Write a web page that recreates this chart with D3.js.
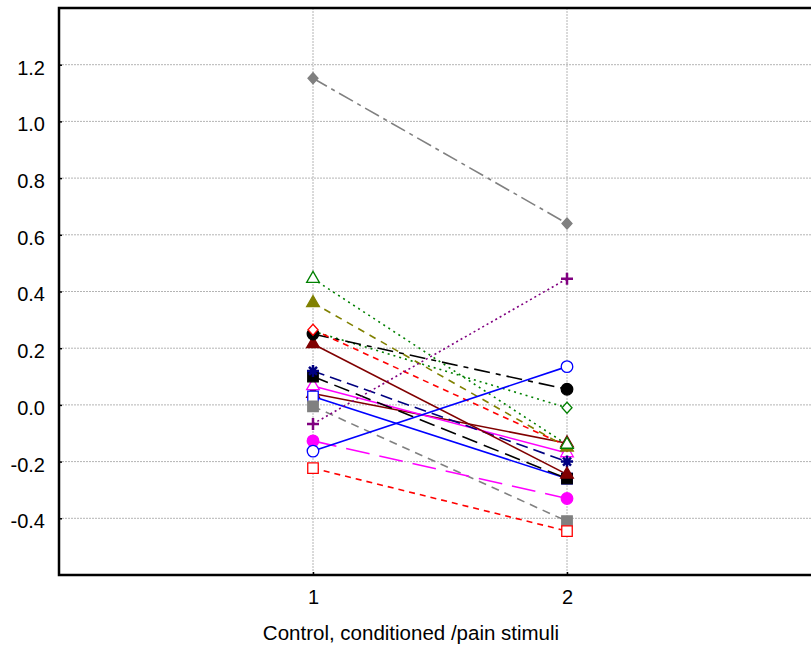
<!DOCTYPE html>
<html>
<head>
<meta charset="utf-8">
<script src="https://cdn.jsdelivr.net/npm/d3@7"></script>
<style>
body{margin:0;background:#fff;}
svg{display:block;font-family:"Liberation Sans",Arial,sans-serif;}
</style>
</head>
<body>
<div class="canvas"></div>
<script>
// conditions on the x axis
var categories = [1, 2];
var yTicks = [-0.4, -0.2, 0.0, 0.2, 0.4, 0.6, 0.8, 1.0, 1.2];
var xTitle = 'Control, conditioned /pain stimuli';

// one entry per subject, drawn back to front
var subjects = ['s17','s6','s10','s11','s12','s9','s8','s7','s5','s4','s3','s2','s13','s14','s15','s16','s1'];
var control     = [0.04, 0.26, 0.067, 0.03, -0.005, 0.10, 0.12, 0.215, 0.25, 0.265, 0.36, 0.445, -0.067, -0.127, -0.163, -0.223, 1.152];
var conditioned = [-0.135, -0.01, -0.17, -0.26, -0.41, -0.26, -0.2, -0.245, 0.055, -0.145, -0.15, -0.14, 0.445, -0.33, 0.135, -0.445, 0.64];

// look of each subject (same order as subjects)
var looks = [
  {c:'#800000', d:null,          m:'tri',     open:false},
  {c:'#008000', d:'2,4',         m:'diamond', open:true},
  {c:'#ff00ff', d:null,          m:'tri',     open:true},
  {c:'#0000ff', d:null,          m:'square',  open:true},
  {c:'#808080', d:'8,6',         m:'square',  open:false},
  {c:'#000000', d:'16,7',        m:'square',  open:false},
  {c:'#000080', d:'12,6',        m:'star',    open:false},
  {c:'#800000', d:null,          m:'tri',     open:false},
  {c:'#000000', d:'16,6,5,6',    m:'circle',  open:false},
  {c:'#ff0000', d:'6,5',         m:'diamond', open:true},
  {c:'#808000', d:'7,6',         m:'tri',     open:false},
  {c:'#008000', d:'2,4',         m:'tri',     open:true},
  {c:'#800080', d:'2,3',         m:'plus',    open:false},
  {c:'#ff00ff', d:'24,10',       m:'circle',  open:false},
  {c:'#0000ff', d:null,          m:'circle',  open:true},
  {c:'#ff0000', d:'6,5',         m:'square',  open:true},
  {c:'#808080', d:'16,5,4,5',    m:'diamond', open:false}
];

var W = 811, H = 646;
var padL = 59, padT = 8, padB = 575;

var svg = d3.select('.canvas')
    .append('svg')
    .attr('width', W)
    .attr('height', H);

var x = d3.scaleLinear().domain([0, 3]).range([padL, padL + 3 * 254]);
var y = d3.scaleLinear().domain([-0.6, 1.4]).range([padB, padT]);

// grid
svg.append('g').selectAll('line')
    .data(yTicks).enter().append('line')
    .attr('x1', padL).attr('x2', W)
    .attr('y1', function(d){ return y(d); })
    .attr('y2', function(d){ return y(d); })
    .attr('stroke', '#b4b4b4').attr('stroke-dasharray', '2,1');
svg.append('g').selectAll('line')
    .data(categories).enter().append('line')
    .attr('x1', function(d){ return x(d); })
    .attr('x2', function(d){ return x(d); })
    .attr('y1', padT).attr('y2', padB)
    .attr('stroke', '#b4b4b4').attr('stroke-dasharray', '2,1');

// axes
var yAxis = svg.append('g')
    .attr('transform', 'translate(' + padL + ',0)')
    .call(d3.axisLeft(y).tickValues(yTicks).tickSizeInner(-3).tickSizeOuter(0).tickPadding(14)
        .tickFormat(function(d){ return d.toFixed(1); }));
yAxis.selectAll('text').attr('y', 3);

var xAxis = svg.append('g')
    .attr('transform', 'translate(0,' + padB + ')')
    .call(d3.axisBottom(x).tickValues(categories).tickSizeInner(-3).tickSizeOuter(0).tickPadding(15)
        .tickFormat(d3.format('d')));

[yAxis, xAxis].forEach(function(a){
    a.select('.domain').remove();
    a.selectAll('line').attr('stroke', '#000').attr('stroke-width', 1.5);
    a.selectAll('text').attr('fill', '#000').style('font-size', '20px')
        .style('font-family', '"Liberation Sans",Arial,sans-serif');
});

// frame
svg.append('path')
    .attr('d', 'M' + W + ',' + padT + 'H' + padL + 'V' + padB + 'H' + W)
    .attr('fill', 'none').attr('stroke', '#000').attr('stroke-width', 2.5);

svg.append('text')
    .attr('x', 411).attr('y', 640)
    .attr('text-anchor', 'middle')
    .style('font-size', '20.5px')
    .text(xTitle);

// lines
var line = d3.line()
    .x(function(d){ return x(d[0]); })
    .y(function(d){ return y(d[1]); });

subjects.forEach(function(s, i){
    svg.append('path')
        .datum([[categories[0], control[i]], [categories[1], conditioned[i]]])
        .attr('d', line)
        .attr('fill', 'none')
        .attr('stroke', looks[i].c)
        .attr('stroke-width', 1.6)
        .attr('stroke-dasharray', looks[i].d);
});

// markers
var shapes = {
    tri: d3.symbol().type(d3.symbolTriangle).size(70)(),
    square: d3.symbol().type(d3.symbolSquare).size(110)(),
    circle: d3.symbol().type(d3.symbolCircle).size(105)(),
    diamond: 'M0,-5.5L5,0L0,5.5L-5,0Z',
    plus: 'M-6,0H6M0,-6V6',
    star: 'M-6,0H6M0,-6V6M-4,-4L4,4M-4,4L4,-4'
};

subjects.forEach(function(s, i){
    var lk = looks[i];
    var pts = [[categories[0], control[i]], [categories[1], conditioned[i]]];
    svg.append('g').selectAll('path')
        .data(pts).enter().append('path')
        .attr('transform', function(d){ return 'translate(' + x(d[0]) + ',' + y(d[1]) + ')'; })
        .attr('d', shapes[lk.m])
        .attr('fill', (lk.m === 'plus' || lk.m === 'star') ? 'none' : (lk.open ? '#fff' : lk.c))
        .attr('stroke', lk.c)
        .attr('stroke-width', (lk.m === 'plus' || lk.m === 'star') ? 2.5 : 1.3);
});
</script>
</body>
</html>
